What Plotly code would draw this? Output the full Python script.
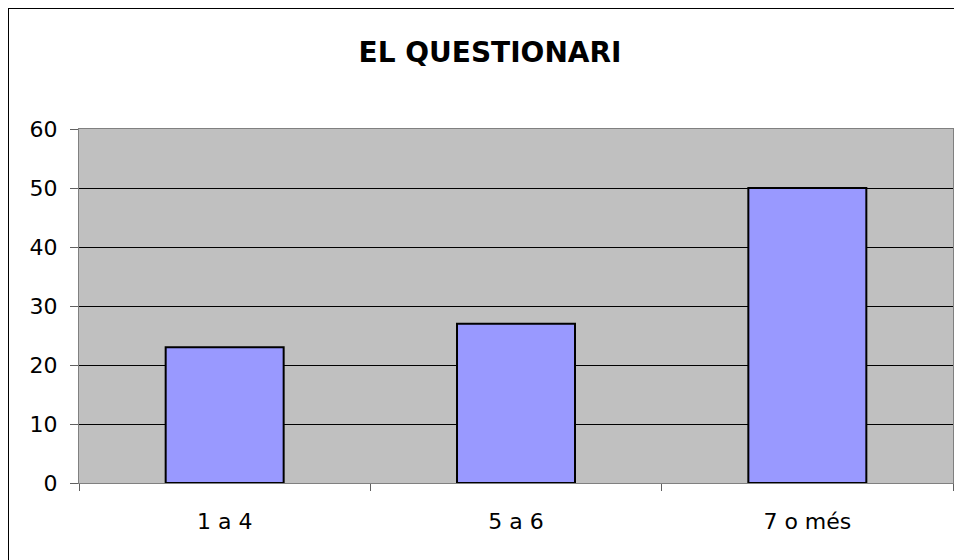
import plotly.graph_objects as go

categories = ["1 a 4", "5 a 6", "7 o més"]
values = [23, 27, 50]
y_ticks = [0, 10, 20, 30, 40, 50, 60]

W, H = 962, 560
ML, MR, MT, MB = 71, 17, 121, 85
pw, ph = W - ML - MR, H - MT - MB

FONT = "DejaVu Sans, Liberation Sans, Arial"

fig = go.Figure(go.Bar(
    x=categories, y=values,
    marker=dict(color="#9999FF", line=dict(color="black", width=2)),
    width=0.405,
))

def px2paper_x(px):
    return (px - ML) / pw

def px2paper_y(py):
    return (H - MB - py) / ph

fig.add_shape(type="rect", xref="paper", yref="paper",
              x0=px2paper_x(0), x1=px2paper_x(990),
              y0=px2paper_y(600), y1=px2paper_y(0),
              line=dict(color="black", width=2), fillcolor="rgba(0,0,0,0)", layer="below")

fig.update_layout(
    width=W, height=H,
    margin=dict(l=ML, r=MR, t=MT, b=MB),
    paper_bgcolor="white", plot_bgcolor="#C0C0C0",
    title=dict(text="<b>EL QUESTIONARI</b>", x=482 / W, xanchor="center", y=1 - 44 / H, yanchor="middle",
               font=dict(family=FONT, size=28, color="black")),
    font=dict(family=FONT, size=22, color="black"),
    showlegend=False,
)
fig.update_xaxes(showline=True, linecolor="#808080", linewidth=1, mirror=True,
                 ticks="outside", tickson="boundaries", ticklen=7, tickcolor="#606060",
                 showgrid=False, tickfont=dict(size=22), ticklabelstandoff=19)
fig.update_yaxes(range=[0, 60], tickvals=y_ticks, showline=True, linecolor="#808080", linewidth=1,
                 mirror=True, ticks="outside", ticklen=8, tickcolor="#606060",
                 showgrid=True, gridcolor="black", gridwidth=1, zeroline=False,
                 tickfont=dict(size=22), ticklabelstandoff=8)

fig.write_html("out.html")
